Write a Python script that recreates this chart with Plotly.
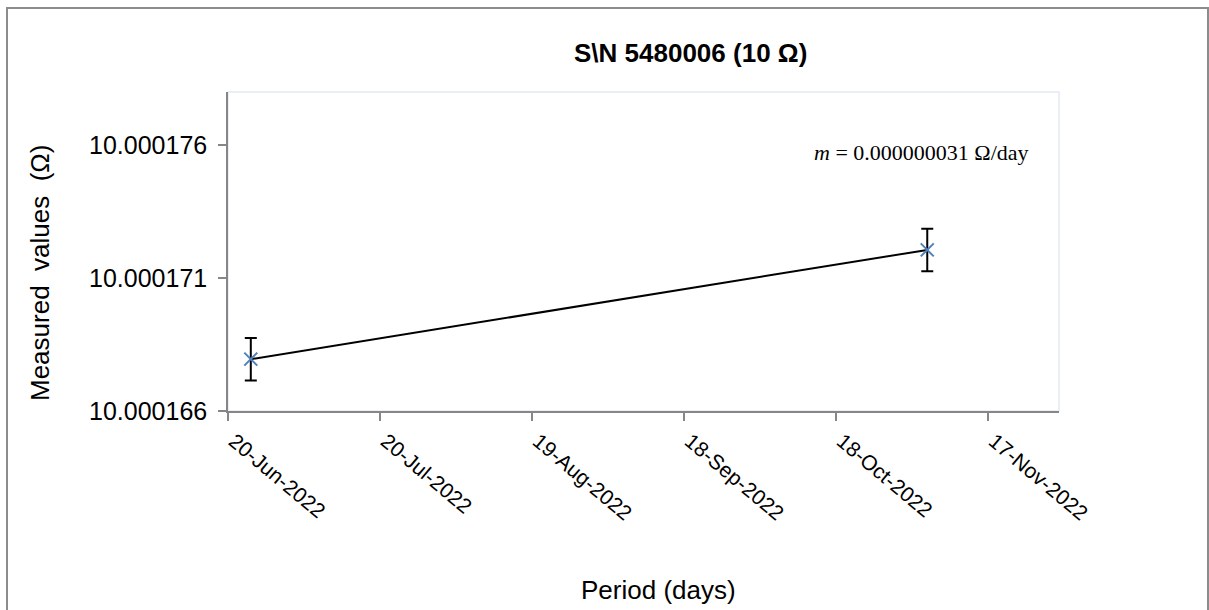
import plotly.graph_objects as go

# ---- data ----
dates = ["2022-06-24 12:00", "2022-11-05 00:00"]
values = [10.00016795, 10.00017206]
errors = [0.0000008, 0.0000008]

x_tick_dates = ["2022-06-20", "2022-07-20", "2022-08-19", "2022-09-18", "2022-10-18", "2022-11-17"]
x_tick_labels = ["20-Jun-2022", "20-Jul-2022", "19-Aug-2022", "18-Sep-2022", "18-Oct-2022", "17-Nov-2022"]
y_tick_vals = [10.000166, 10.000171, 10.000176]
y_tick_labels = ["10.000166", "10.000171", "10.000176"]

x_range = ["2022-06-20", "2022-12-01"]
y_range = [10.000166, 10.000178]

title_text = "S\\N 5480006 (10 Ω)"
slope_text = "<i>m</i> = 0.000000031 Ω/day"

# ---- layout geometry (pixels) ----
W, H = 1209, 610
L, R, T, B = 228, 1059, 92, 411
pw, ph = R - L, B - T


def px(xp):
    return (xp - L) / pw


def py(yp):
    return (B - yp) / ph


fig = go.Figure()
fig.add_trace(go.Scatter(
    x=dates, y=values,
    mode="lines+markers",
    line=dict(color="black", width=2),
    marker=dict(symbol="x-thin", size=13, line=dict(color="#4F81BD", width=2), color="#4F81BD"),
    error_y=dict(type="data", array=errors, visible=True, color="black", thickness=2, width=6),
    showlegend=False,
))

fig.update_layout(
    width=W, height=H,
    margin=dict(l=L, r=W - R, t=T, b=H - B, pad=0),
    paper_bgcolor="white",
    plot_bgcolor="white",
    xaxis=dict(
        type="date", range=x_range,
        tickmode="array", tickvals=x_tick_dates, ticktext=x_tick_labels,
        tickangle=40, ticklabelshift=6,
        tickfont=dict(family="Arial, Liberation Sans, sans-serif", size=21, color="black"),
        ticks="outside", ticklen=8, tickwidth=1.5, tickcolor="#868686",
        showline=True, linecolor="#868686", linewidth=1.5,
        showgrid=False, zeroline=False,
    ),
    yaxis=dict(
        range=y_range,
        tickmode="array", tickvals=y_tick_vals, ticktext=y_tick_labels,
        tickfont=dict(family="Arial, Liberation Sans, sans-serif", size=25, color="black"),
        ticks="outside", ticklen=8, tickwidth=1.5, tickcolor="#868686",
        ticklabelstandoff=6,
        showline=True, linecolor="#868686", linewidth=1.5,
        showgrid=False, zeroline=False,
    ),
    shapes=[
        dict(type="rect", xref="paper", yref="paper", x0=0, x1=1, y0=0, y1=1,
             line=dict(color="#E4EAF3", width=1.5), layer="below"),
        dict(type="rect", xref="paper", yref="paper",
             x0=px(7), x1=px(1208), y0=py(8), y1=py(640),
             line=dict(color="#8C8C8C", width=2), layer="below"),
    ],
    annotations=[
        dict(text="<b>" + title_text + "</b>", xref="paper", yref="paper",
             x=px(690), y=py(53), xanchor="center", yanchor="middle", showarrow=False,
             font=dict(family="Arial, Liberation Sans, sans-serif", size=26, color="black")),
        dict(text=slope_text, xref="paper", yref="paper",
             x=px(1031), y=py(152), xanchor="right", yanchor="middle", showarrow=False,
             font=dict(family="Liberation Serif, serif", size=22, color="black")),
        dict(text="Measured  values  (Ω)", xref="paper", yref="paper",
             x=px(40), y=py(273), xanchor="center", yanchor="middle", textangle=-90,
             showarrow=False,
             font=dict(family="Arial, Liberation Sans, sans-serif", size=26, color="black")),
        dict(text="Period (days)", xref="paper", yref="paper",
             x=px(658), y=py(590), xanchor="center", yanchor="middle", showarrow=False,
             font=dict(family="Arial, Liberation Sans, sans-serif", size=26, color="black")),
    ],
)

fig.write_html("out.html")
